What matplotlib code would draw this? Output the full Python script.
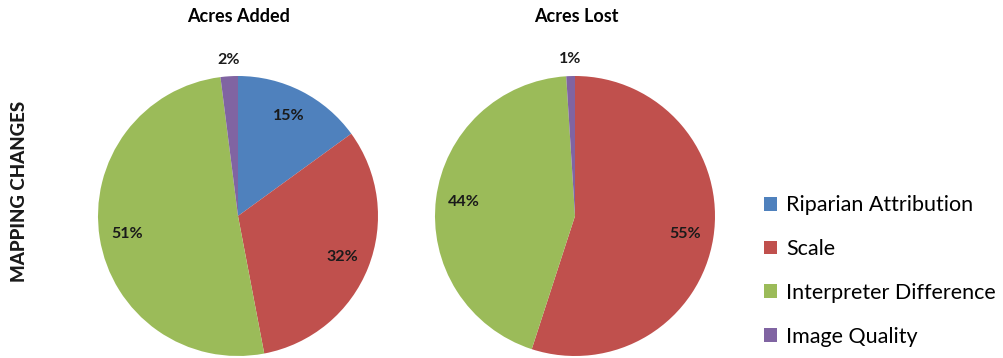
import matplotlib.pyplot as plt

plt.rcParams['font.family'] = ['Lato', 'DejaVu Sans']

categories = ['Riparian Attribution', 'Scale', 'Interpreter Difference', 'Image Quality']
colors = ['#4F81BD', '#C0504D', '#9BBB59', '#8064A2']
acres_added = [15, 32, 51, 2]
acres_lost = [0, 55, 44, 1]
titles = ['Acres Added', 'Acres Lost']

W, H = 1004, 358


def draw_pie(ax, values):
    wedges, texts, autotexts = ax.pie(
        values, colors=colors, startangle=90, counterclock=False,
        autopct=lambda p: '' if p < 0.5 else '%d%%' % round(p),
        pctdistance=0.8, radius=1,
        textprops={'fontsize': 11.5, 'fontweight': 'bold', 'color': '#1a1a1a'})
    # small slices get their labels just outside the pie
    for v, t in zip(values, autotexts):
        if 0 < v < 5:
            x, y = t.get_position()
            t.set_position((x / 0.8 * 1.12, y / 0.8 * 1.12))
    ax.set_xlim(-1, 1)
    ax.set_ylim(-1, 1)
    ax.set_aspect('equal')
    return wedges


fig = plt.figure(figsize=(W / 100, H / 100), dpi=100)
r = 140
ax1 = fig.add_axes([(238 - r) / W, (H - 216 - r) / H, 2 * r / W, 2 * r / H])
ax2 = fig.add_axes([(575 - r) / W, (H - 216 - r) / H, 2 * r / W, 2 * r / H])

wedges = draw_pie(ax1, acres_added)
draw_pie(ax2, acres_lost)

fig.text(239 / W, 1 - 17 / H, titles[0], ha='center', va='center',
         fontsize=13, fontweight='bold')
fig.text(576 / W, 1 - 17 / H, titles[1], ha='center', va='center',
         fontsize=13, fontweight='bold')
fig.text(20 / W, 1 - 191 / H, 'MAPPING CHANGES', rotation=90,
         ha='center', va='center', fontsize=13.5, fontweight='black', color='#1a1a1a')

fig.legend(wedges, categories, loc='center left',
           bbox_to_anchor=(745 / W, 1 - 271 / H),
           frameon=False, fontsize=15.5, handlelength=0.6, handleheight=0.6,
           handletextpad=0.4, labelspacing=1.1)

fig.savefig('out.png', dpi=100)
